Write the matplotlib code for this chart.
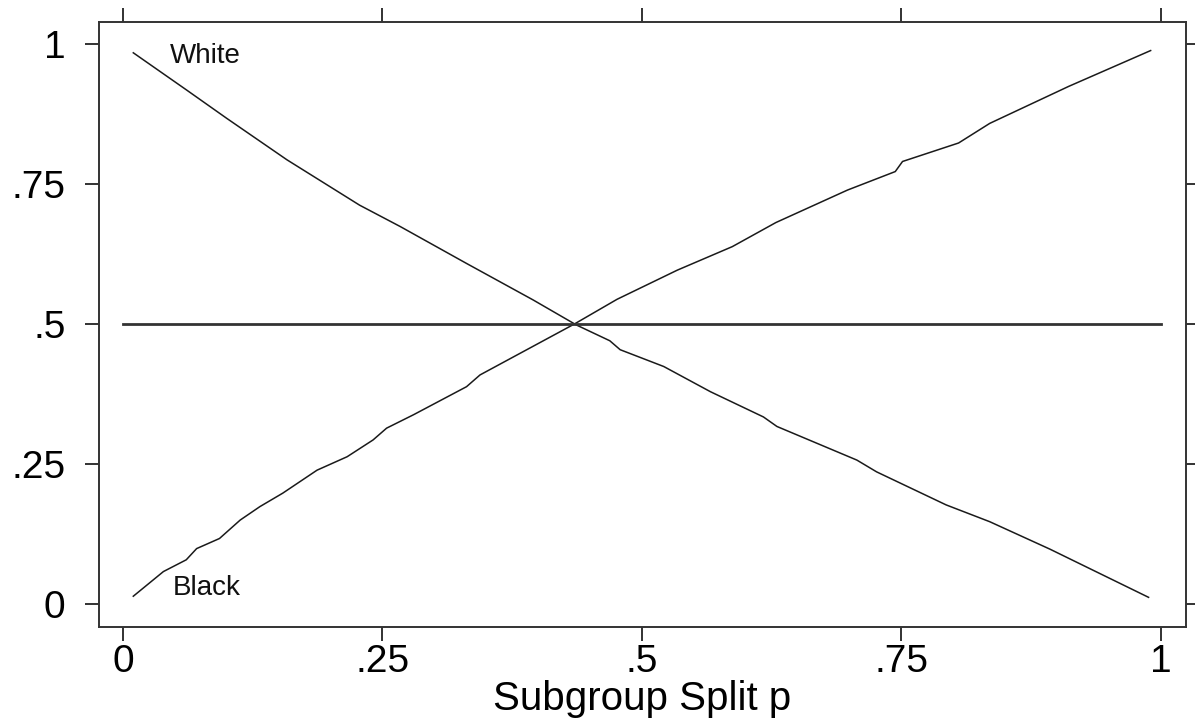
"""
Subgroup split chart (White / Black shares vs. split p)
"""

import matplotlib
matplotlib.use('Agg')
import matplotlib.pyplot as plt

# data
black_x = [0.01, 0.039, 0.061, 0.071, 0.093, 0.113, 0.132, 0.154, 0.187, 0.216,
           0.241, 0.254, 0.280, 0.331, 0.344, 0.386, 0.435, 0.476, 0.534, 0.587,
           0.629, 0.698, 0.744, 0.751, 0.805, 0.835, 0.911, 0.99]
black_y = [0.014, 0.058, 0.079, 0.099, 0.117, 0.150, 0.174, 0.198, 0.239, 0.263,
           0.293, 0.314, 0.338, 0.388, 0.409, 0.451, 0.500, 0.544, 0.596, 0.638,
           0.681, 0.739, 0.772, 0.790, 0.823, 0.858, 0.924, 0.988]

white_x = [0.01, 0.061, 0.100, 0.158, 0.228, 0.267, 0.331, 0.395, 0.437, 0.469,
           0.479, 0.521, 0.566, 0.617, 0.630, 0.707, 0.726, 0.793, 0.835, 0.893,
           0.988]
white_y = [0.984, 0.918, 0.867, 0.793, 0.712, 0.674, 0.608, 0.543, 0.498, 0.470,
           0.454, 0.424, 0.379, 0.334, 0.317, 0.257, 0.236, 0.177, 0.147, 0.098,
           0.012]

ref_x = [0.0, 1.0]
ref_y = [0.5, 0.5]

ticks = [0, 0.25, 0.5, 0.75, 1]
tick_labels = ['0', '.25', '.5', '.75', '1']

plt.rcParams['font.family'] = ['Liberation Sans', 'DejaVu Sans']

fig = plt.figure(figsize=(11.95, 7.28), dpi=100)
ax = fig.add_axes([0.0828, 0.1387, 0.9097, 0.8311])

line_color = '#1a1a1a'
ax.plot(black_x, black_y, color=line_color, linewidth=1.1)
ax.plot(white_x, white_y, color=line_color, linewidth=1.1)
ax.plot(ref_x, ref_y, color='#333333', linewidth=2.0)

# curve labels
ax.text(0.045, 0.979, 'White', fontsize=20, va='center', ha='left', color='#111111')
ax.text(0.048, 0.029, 'Black', fontsize=20, va='center', ha='left', color='#111111')

ax.set_xlim(-0.0231, 1.0241)
ax.set_ylim(-0.041, 1.039)

ax.set_xticks(ticks)
ax.set_xticklabels(tick_labels)
ax.set_yticks(ticks)
ax.set_yticklabels(tick_labels)

# ticks on all four sides, pointing outward, labels only left/bottom
ax.tick_params(axis='both', direction='out', length=10, width=1.3, color='#222222',
               labelsize=28, top=True, right=True)
ax.tick_params(axis='y', pad=14)
ax.tick_params(axis='x', pad=2)

for spine in ax.spines.values():
    spine.set_linewidth(1.4)
    spine.set_color('#333333')

ax.set_xlabel('Subgroup Split p', fontsize=29, labelpad=0)

fig.savefig('out.png', dpi=100)
plt.close(fig)
